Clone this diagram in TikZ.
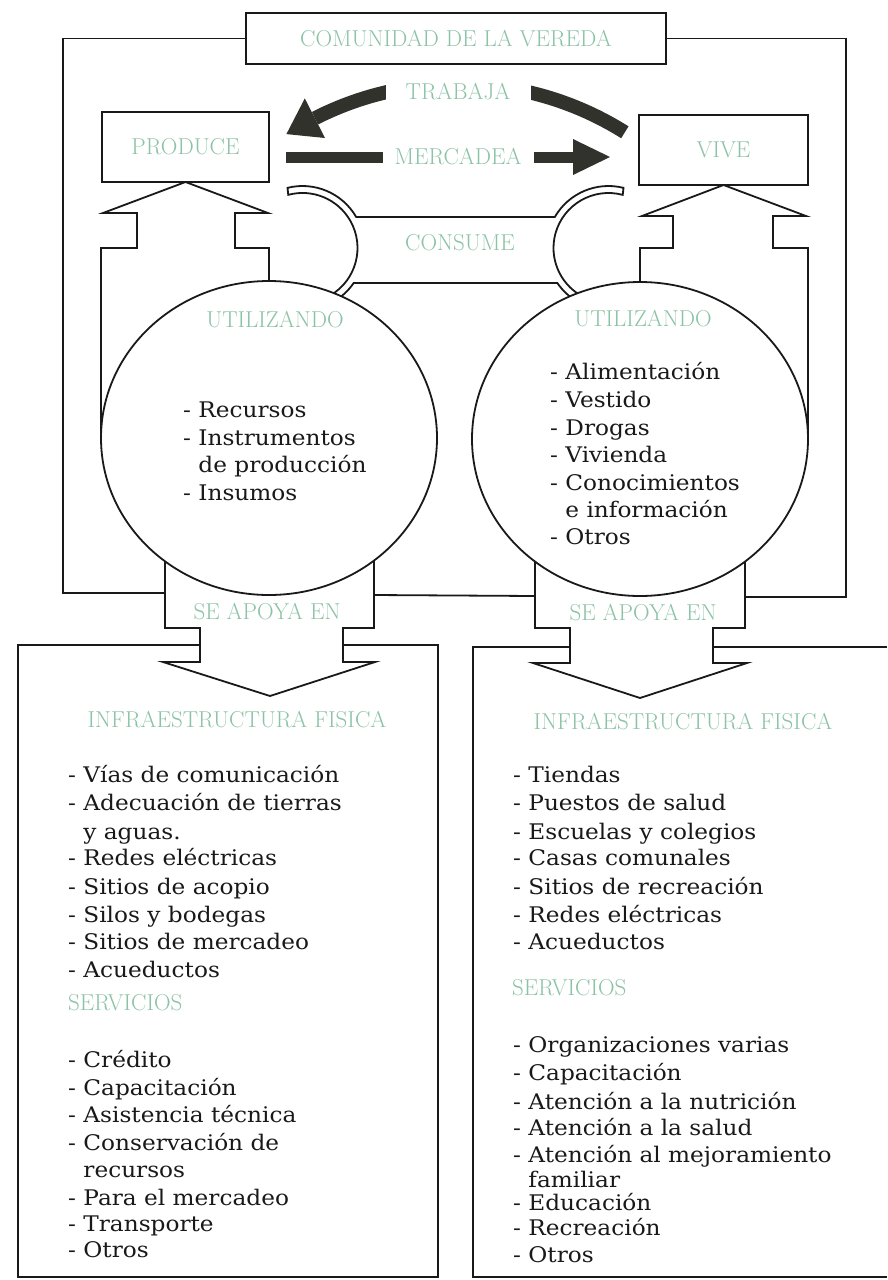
\documentclass[tikz,border=0pt]{standalone}
\usepackage{fontspec}
\newfontfamily\bodyfont{DejaVu Serif}[FakeStretch=1.08]
\usetikzlibrary{shapes.geometric}
\definecolor{lbl}{RGB}{140,195,165}
\definecolor{ink}{RGB}{25,25,25}
\definecolor{bar}{RGB}{50,50,45}
\begin{document}
\begin{tikzpicture}[x=1pt,y=-1pt,
  ln/.style={draw=ink,line width=1.8pt,line join=miter},
  lab/.style={text=lbl,font=\fontsize{23}{23}\selectfont,inner sep=0pt},
  body/.style={text=ink,font=\bodyfont\fontsize{21.5}{24}\selectfont,inner sep=0pt,anchor=base west},
  boxn/.style={ln,rectangle,outer sep=0pt,inner sep=0pt},
  gap/.style={lab,fill=white},
  bigcirc/.style={ln,ellipse,fill=white,inner sep=0pt,outer sep=0pt,minimum width=336pt,minimum height=314pt}
]
\useasboundingbox (0,0) rectangle (887,1280);
\fill[white] (0,0) rectangle (887,1280);

% top boxes
\node[boxn,lab,minimum width=420pt,minimum height=51pt] (com) at (456,38.5) {COMUNIDAD DE LA VEREDA};
\node[boxn,lab,minimum width=167pt,minimum height=70pt] (prod) at (185.5,147) {PRODUCE};
\node[boxn,lab,minimum width=169pt,minimum height=70pt] (vive) at (723.5,150) {VIVE};

% outer frame
\draw[ln] (com.west) -- (63,38.5) -- (63,593) -- (165,593);
\draw[ln] (com.east) -- (846,38.5) -- (846,597) -- (745,597);
\draw[ln] (374,595) -- (535,596);

% up arrows
\draw[ln] (101,438) -- (101,248) -- (137,248) -- (137,213) -- (103,213) -- (prod.south)
  -- (268,213) -- (235,213) -- (235,248) -- (269,248) -- (269,290);
\draw[ln] (640,290) -- (640,248) -- (673,248) -- (673,216) -- (642,216) -- (vive.south)
  -- (806,216) -- (773,216) -- (773,248) -- (808,248) -- (808,439);

% consume tube
\draw[ln] (330,295.6) arc[start angle=60,end angle=-105,radius=55] -- (287.5,187.84)
  arc[start angle=-104,end angle=-30,radius=62] -- (554.8,217)
  arc[start angle=210,end angle=284,radius=62] -- (622.73,194.87)
  arc[start angle=285,end angle=120,radius=55];
\draw[ln] (333.5,301.7) arc[start angle=60,end angle=34.4,radius=62] -- (557.33,283)
  arc[start angle=145.6,end angle=120,radius=62];

% down arrows
\draw[ln] (165,540) -- (165,628) -- (200,628) -- (200,662) -- (163,662) -- (270,696)
  -- (375,662) -- (343,662) -- (343,628) -- (374,628) -- (374,540);
\draw[ln] (535,540) -- (535,628) -- (570,628) -- (570,663) -- (533,663) -- (640,698)
  -- (747,663) -- (713,663) -- (713,628) -- (745,628) -- (745,540);

% bottom boxes
\draw[ln] (200,645) -- (18,645) -- (18,1277) -- (438,1277) -- (438,645) -- (343,645);
\draw[ln] (570,647) -- (473,647) -- (473,1277) -- (887,1277);
\draw[ln] (713,647) -- (887,647);

% circles
\node[bigcirc] (cl) at (269,438) {};
\node[bigcirc] (cr) at (640,439) {};

% thick arrows
\draw[draw=bar,line width=14pt] (624.85,132.3) arc[start angle=-57.8,end angle=-117,radius=314];
\fill[bar] (304.8,98.4) -- (286.4,134.1) -- (325.0,138.0) -- cycle;
\draw[draw=bar,line width=11pt] (286,157) -- (575,157);
\fill[bar] (573,139) -- (610,157) -- (573,175) -- cycle;
\node[gap,minimum width=145pt,minimum height=30pt] (trab) at (458,92) {TRABAJA};
\node[gap,minimum width=151pt,minimum height=24pt] (merc) at (458,157) {MERCADEA};

% labels
\node[lab] (cons) at (460,243) {CONSUME};
\node[lab] (ul) at (275,320) {UTILIZANDO};
\node[lab] (ur) at (643,319) {UTILIZANDO};
\node[lab] (sl) at (267,612) {SE APOYA EN};
\node[lab] (sr) at (643,613) {SE APOYA EN};
\node[lab] (il) at (237,720) {INFRAESTRUCTURA FISICA};
\node[lab] (ir) at (683,722) {INFRAESTRUCTURA FISICA};
\node[lab,anchor=west] (svl) at (68,1003) {SERVICIOS};
\node[lab,anchor=west] (svr) at (512,988) {SERVICIOS};

% circle texts
\foreach \t/\yy [count=\i] in {{- Recursos}/417,{- Instrumentos}/445,{\hphantom{- }de producción}/472,{- Insumos}/500}
  \node[body] (tl\i) at (183,\yy) {\t};
\foreach \t/\yy [count=\i] in {{- Alimentación}/379,{- Vestido}/407,{- Drogas}/435,{- Vivienda}/462,{- Conocimientos}/490,{\hphantom{- }e información}/517,{- Otros}/544}
  \node[body] (tr\i) at (550,\yy) {\t};

% left box texts
\foreach \t/\yy [count=\i] in {{- Vías de comunicación}/782,{- Adecuación de tierras}/810,{\hphantom{- }y aguas.}/839,{- Redes eléctricas}/865,{- Sitios de acopio}/894,{- Silos y bodegas}/922,{- Sitios de mercadeo}/949,{- Acueductos}/977}
  \node[body] (bl\i) at (68,\yy) {\t};
\foreach \t/\yy [count=\i] in {{- Crédito}/1067,{- Capacitación}/1095,{- Asistencia técnica}/1122,{- Conservación de}/1150,{\hphantom{- }recursos}/1177,{- Para el mercadeo}/1205,{- Transporte}/1231,{- Otros}/1257}
  \node[body] (sl\i) at (68,\yy) {\t};

% right box texts
\foreach \t/\yy [count=\i] in {{- Tiendas}/782,{- Puestos de salud}/810,{- Escuelas y colegios}/839,{- Casas comunales}/865,{- Sitios de recreación}/894,{- Redes eléctricas}/922,{- Acueductos}/949}
  \node[body] (br\i) at (513,\yy) {\t};
\foreach \t/\yy [count=\i] in {{- Organizaciones varias}/1052,{- Capacitación}/1080,{- Atención a la nutrición}/1109,{- Atención a la salud}/1135,{- Atención al mejoramiento}/1162,{\hphantom{- }familiar}/1187,{- Educación}/1210,{- Recreación}/1235,{- Otros}/1262}
  \node[body] (sr\i) at (513,\yy) {\t};
\end{tikzpicture}
\end{document}
